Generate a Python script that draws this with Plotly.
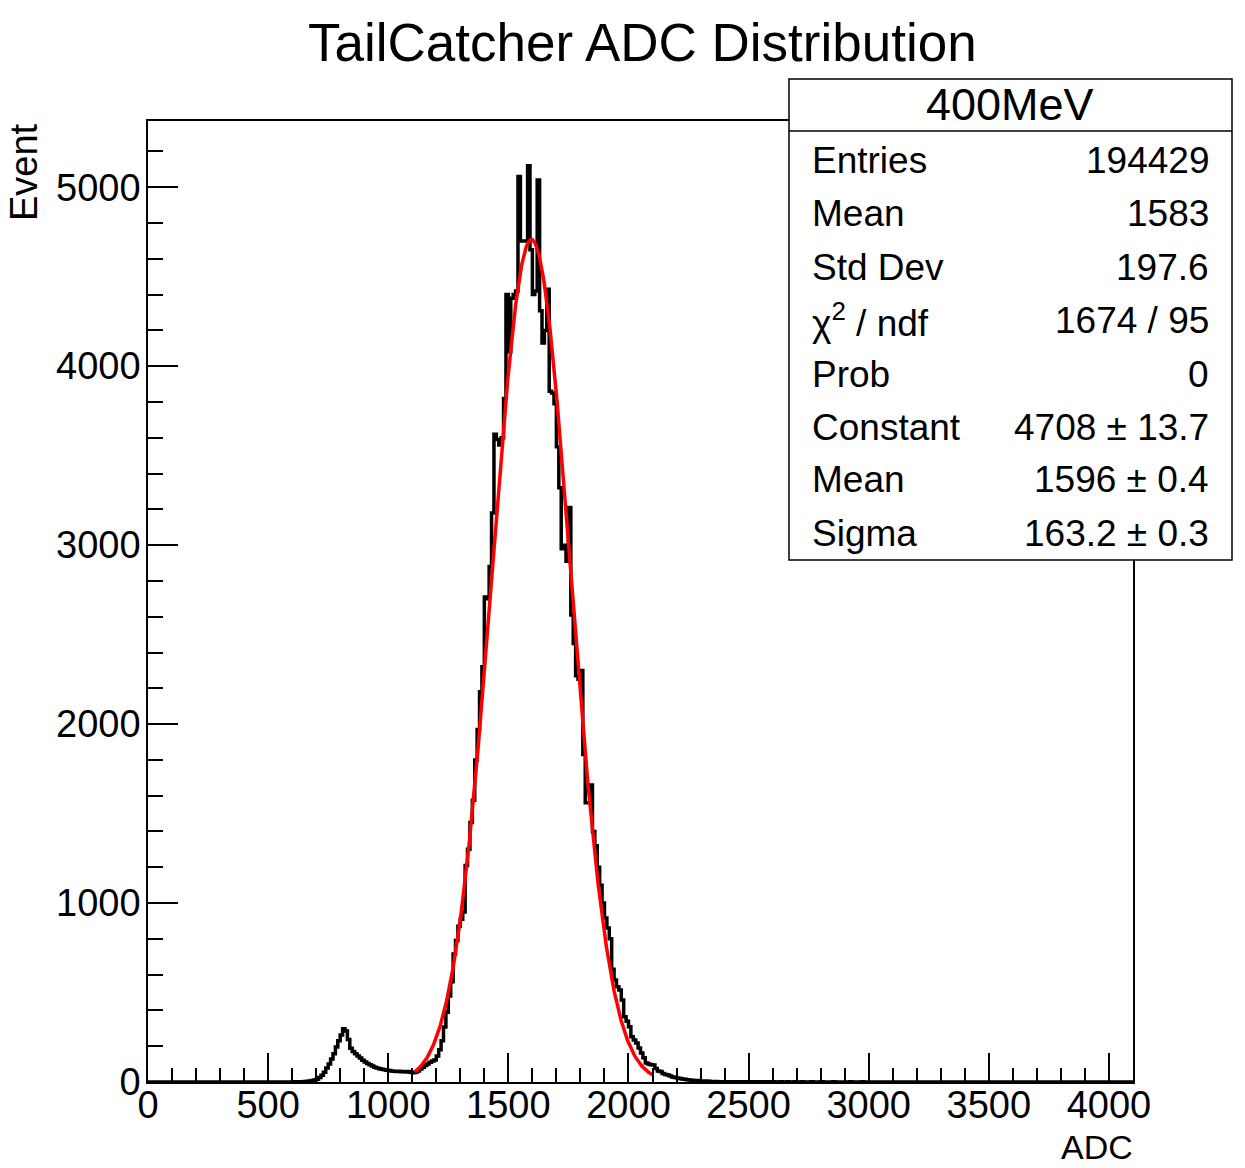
import numpy as np
import plotly.graph_objects as go

# ---------------- data ----------------
BIN_WIDTH = 10          # ADC per bin
X_MIN, X_MAX = 0, 4100  # histogram range (410 bins)
FIRST_EDGE = 600        # lower edge of first bin listed below

# bin contents (Event) for bins starting at ADC 600, 610, 620, ...
counts_from_600 = [
    0, 1, 1, 2, 2, 3, 4, 6, 8, 11,                              # 600-690
    16, 25, 38, 55, 78, 100, 128, 158, 195, 230,                # 700-790
    262, 298, 285, 238, 188, 170, 158, 145, 134, 122,           # 800-890
    112, 104, 96, 89, 83, 78, 74, 71, 68, 66,                   # 900-990
    64, 62, 60, 59, 60, 57, 58, 56, 58, 55,                     # 1000-1090
    52, 55, 62, 72, 82, 92, 100, 110, 118, 123,                 # 1100-1190
    145, 180, 230, 307, 390, 480, 560, 715, 790, 870,           # 1200-1290
    910, 950, 1210, 1300, 1450, 1575, 1800, 1970, 2180, 2320,   # 1300-1390
    2710, 2700, 2880, 3180, 3620, 3590, 3560, 3600, 3820, 4400, # 1400-1490
    4080, 4380, 4400, 4420, 5060, 4700, 4700, 4700, 5120, 4650, # 1500-1590
    4400, 4420, 5040, 4310, 4130, 4200, 4430, 3860, 3850, 3790, # 1600-1690
    3550, 3320, 2980, 3000, 2910, 3210, 2610, 2450, 2270, 2250, # 1700-1790
    2300, 1830, 1560, 1560, 1660, 1400, 1320, 1200, 1100, 1000, # 1800-1890
    917, 860, 800, 630, 570, 532, 514, 458, 365, 340,           # 1900-1990
    309, 253, 235, 218, 190, 162, 135, 106, 100, 96,            # 2000-2090
    95, 75, 62, 58, 48, 42, 39, 33, 28, 25,                     # 2100-2190
    22, 19, 17, 15, 13, 11, 10, 9, 8, 7,                        # 2200-2290
    6, 5, 5, 4, 3, 3, 3, 2, 2, 2,                               # 2300-2390
    2, 2, 1, 2, 1, 1, 1, 1, 1, 1,                               # 2400-2490
    1, 1, 0, 1, 1, 0, 1, 0, 1, 0,                               # 2500-2590
    1, 0, 0, 1, 0, 0, 1, 0, 0, 1,                               # 2600-2690
    0, 0, 1, 0, 0, 0, 1, 0, 0, 0,                               # 2700-2790
    1, 0, 0, 0, 0, 1, 0, 0, 0, 0,                               # 2800-2890
    0, 0, 1, 0, 0, 0, 0, 1, 0, 0,                               # 2900-2990
]

# Gaussian fit parameters (from the stats box)
FIT_CONSTANT = 4708
FIT_MEAN = 1596
FIT_SIGMA = 163.2
FIT_RANGE = (1110, 2100)

TITLE = "TailCatcher ADC Distribution"
X_TITLE = "ADC"
Y_TITLE = "Event"
STATS_HEADER = "400MeV"
stats_labels = ["Entries", "Mean", "Std Dev", "χ<sup>2</sup> / ndf", "Prob",
                "Constant", "Mean", "Sigma"]
stats_values = ["194429", "1583", "197.6", "1674 / 95", "0",
                "4708 ± 13.7", "1596 ± 0.4", "163.2 ± 0.3"]

x_tickvals = [0, 500, 1000, 1500, 2000, 2500, 3000, 3500, 4000]
y_tickvals = [0, 1000, 2000, 3000, 4000, 5000]

# ---------------- build histogram ----------------
n_bins = (X_MAX - X_MIN) // BIN_WIDTH
lead = (FIRST_EDGE - X_MIN) // BIN_WIDTH
counts = [0] * lead + counts_from_600
counts = counts + [0] * (n_bins - len(counts))
edges = np.arange(X_MIN, X_MAX + BIN_WIDTH, BIN_WIDTH)
step_y = counts + [counts[-1]]

fit_x = np.linspace(FIT_RANGE[0], FIT_RANGE[1], 400)
fit_y = FIT_CONSTANT * np.exp(-0.5 * ((fit_x - FIT_MEAN) / FIT_SIGMA) ** 2)

# ---------------- layout helpers (pixel -> paper) ----------------
W, H = 1245, 1168
PL, PR, PT, PB = 148, 1133, 121, 1082


def px(x):
    return (x - PL) / (PR - PL)


def py(y):
    return (PB - y) / (PB - PT)


FONT = "Liberation Sans, Arial, Helvetica, sans-serif"

fig = go.Figure()
fig.add_trace(go.Scatter(x=edges, y=step_y, mode="lines", line_shape="hv",
                         line=dict(color="black", width=3.5), hoverinfo="skip",
                         showlegend=False))
fig.add_trace(go.Scatter(x=fit_x, y=fit_y, mode="lines",
                         line=dict(color="#ff0000", width=3.5), hoverinfo="skip",
                         showlegend=False))

axis_common = dict(
    showgrid=False, zeroline=False, showline=True, linecolor="black",
    linewidth=1.5, mirror=True, ticks="inside", tickcolor="black",
    tickwidth=1.5, tickfont=dict(family=FONT, size=38, color="black"),
)
fig.update_xaxes(range=[X_MIN, X_MAX], tickvals=x_tickvals, ticklen=29,
                 minor=dict(dtick=100, ticks="inside", ticklen=14,
                            tickwidth=1.5, tickcolor="black"),
                 ticklabelstandoff=-11, **axis_common)
fig.update_yaxes(range=[0, 5370], tickvals=y_tickvals, ticklen=30,
                 minor=dict(dtick=200, ticks="inside", ticklen=15,
                            tickwidth=1.5, tickcolor="black"),
                 ticklabelstandoff=-2, **axis_common)

shapes = [
    dict(type="rect", xref="paper", yref="paper", x0=px(789), x1=px(1232),
         y0=py(560), y1=py(79), line=dict(color="black", width=1.5),
         fillcolor="white", layer="above"),
    dict(type="line", xref="paper", yref="paper", x0=px(789), x1=px(1232),
         y0=py(131), y1=py(131), line=dict(color="black", width=1.5),
         layer="above"),
]

annotations = [
    dict(text=TITLE, x=px(642), y=py(42), xref="paper", yref="paper",
         showarrow=False, xanchor="center", yanchor="middle",
         font=dict(family=FONT, size=53, color="black")),
    dict(text=X_TITLE, x=px(1134), y=py(1147), xref="paper", yref="paper",
         showarrow=False, xanchor="right", yanchor="middle", borderpad=0,
         font=dict(family=FONT, size=34, color="black")),
    dict(text=Y_TITLE, x=px(24), y=py(121), xref="paper", yref="paper",
         showarrow=False, xanchor="center", yanchor="top", textangle=-90,
         font=dict(family=FONT, size=38, color="black")),
    dict(text=STATS_HEADER, x=px(1010), y=py(105), xref="paper", yref="paper",
         showarrow=False, xanchor="center", yanchor="middle",
         font=dict(family=FONT, size=45, color="black")),
]
row_y = [160, 213, 267, 320, 374, 427, 480, 533]
for lab, val, ry in zip(stats_labels, stats_values, row_y):
    annotations.append(dict(text=lab, x=px(810), y=py(ry), xref="paper",
                            yref="paper", showarrow=False, xanchor="left",
                            yanchor="middle",
                            font=dict(family=FONT, size=37, color="black")))
    annotations.append(dict(text=val, x=px(1211), y=py(ry), xref="paper",
                            yref="paper", showarrow=False, xanchor="right",
                            yanchor="middle",
                            font=dict(family=FONT, size=37, color="black")))

fig.update_layout(
    width=W, height=H, autosize=False,
    margin=dict(l=PL, r=W - PR, t=PT, b=H - PB, pad=0),
    paper_bgcolor="white", plot_bgcolor="white",
    shapes=shapes, annotations=annotations, showlegend=False,
)

fig.write_html("out.html")
